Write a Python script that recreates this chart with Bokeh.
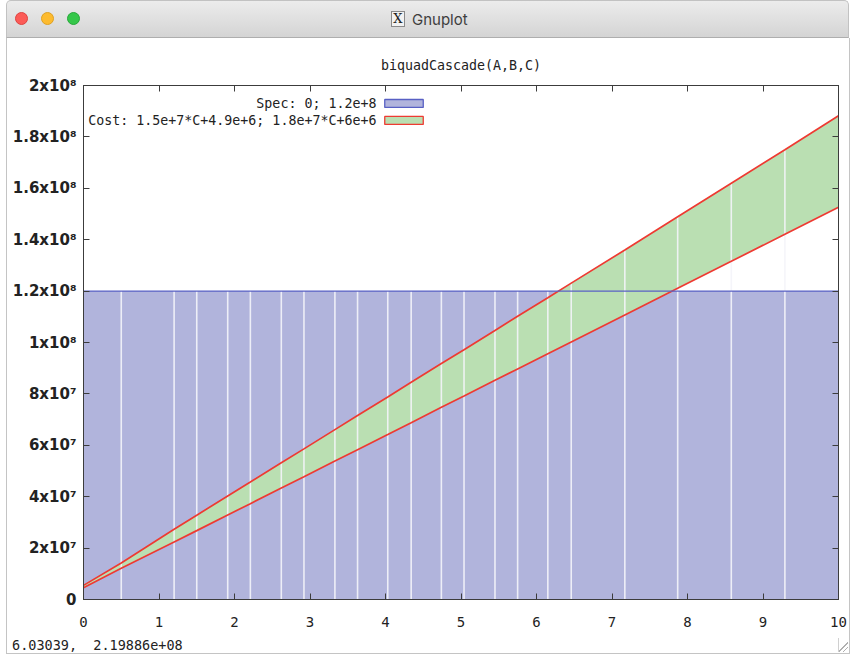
from bokeh.plotting import figure
from bokeh.models import (FixedTicker, LinearAxis, Range1d, Div, CustomJSTickFormatter)
from bokeh.layouts import column, row
from bokeh.embed import file_html
from bokeh.resources import INLINE
from bokeh.core.properties import value

# ---------------- data ----------------
window_title = "Gnuplot"
chart_title = "biquadCascade(A,B,C)"
status_text = "6.03039,  2.19886e+08"

# sample points of C (where gnuplot's filled segments meet)
C = [0.0, 0.5, 1.2, 1.5, 1.91, 2.21, 2.62, 2.92, 3.33, 3.63, 4.03, 4.34,
     4.74, 5.04, 5.45, 5.75, 6.15, 6.46, 7.17, 7.87, 8.58, 9.29, 10.0]
cost_low = [4.6e6, 12.2e6, 22.4e6, 26.8e6, 32.9e6, 37.3e6, 43.4e6, 47.8e6,
            53.9e6, 58.3e6, 64.2e6, 68.8e6, 74.8e6, 79.2e6, 85.3e6, 89.7e6,
            95.6e6, 100.2e6, 110.7e6, 121.1e6, 131.6e6, 142.1e6, 152.6e6]
cost_high = [5.5e6, 14.2e6, 27.3e6, 32.8e6, 40.3e6, 45.7e6, 53.2e6, 58.6e6,
             66.1e6, 71.6e6, 78.8e6, 84.5e6, 91.8e6, 97.2e6, 104.7e6, 110.2e6,
             117.4e6, 123.1e6, 136.0e6, 148.9e6, 162.0e6, 175.0e6, 188.2e6]
spec_x = [0.0, 10.0]
spec_low = [0.0, 0.0]
spec_high = [1.2e8, 1.2e8]

x_ticks = [0, 1, 2, 3, 4, 5, 6, 7, 8, 9, 10]
y_ticks = [0, 20000000, 40000000, 60000000, 80000000, 100000000,
           120000000, 140000000, 160000000, 180000000, 200000000]
y_tick_labels = ["0", "2x10\u2077", "4x10\u2077", "6x10\u2077", "8x10\u2077",
                 "1x10\u2078", "1.2x10\u2078", "1.4x10\u2078", "1.6x10\u2078",
                 "1.8x10\u2078", "2x10\u2078"]
legend_labels = ["Spec: 0; 1.2e+8", "Cost: 1.5e+7*C+4.9e+6; 1.8e+7*C+6e+6"]

# ---------------- style ----------------
BLUE_FILL = "#b1b4dc"
BLUE_LINE = "#5860c4"
GREEN_FILL = "#badfb2"
RED = "#ee3a32"
FRAME = "#3c3c3c"
MONO = "DejaVu Sans Mono"

p = figure(width=840, height=594, x_range=Range1d(0, 10), y_range=Range1d(0, 2e8),
           output_backend="svg", toolbar_location=None,
           min_border_left=76, min_border_right=9, min_border_top=47,
           min_border_bottom=33, title=chart_title)
p.background_fill_color = "white"
p.border_fill_color = "white"
p.outline_line_color = FRAME
p.outline_line_width = 1
p.grid.visible = False

p.title.align = "center"
p.title.text_font = MONO
p.title.text_font_size = "13.3px"
p.title.text_font_style = "normal"
p.title.text_color = "#222222"
p.title.standoff = 26

# spec band
p.varea(x=spec_x, y1=spec_low, y2=spec_high, fill_color=BLUE_FILL)
# cost band
p.varea(x=C, y1=cost_low, y2=cost_high, fill_color=GREEN_FILL)
# white seams of the filled segments
spec_level = spec_high[0]
inner = C[1:-1]
tops = [max(spec_level, h) for h in cost_high[1:-1]]
p.segment(x0=inner, y0=[0.0] * len(inner), x1=inner, y1=tops,
          line_color="#f4f4fa", line_width=1.6, line_alpha=0.9)
# borders
p.line(C, cost_low, line_color=RED, line_width=1.7)
p.line(C, cost_high, line_color=RED, line_width=1.7)
p.line(spec_x, spec_high, line_color=BLUE_LINE, line_width=1.3)

# gnuplot style key (text left, sample right)
key_text_x = 3.88
key_box_l, key_box_r = 3.99, 4.50
key_y = [1.930e8, 1.864e8]
key_half = 1.55e6
p.text(x=[key_text_x] * 2, y=key_y, text=legend_labels, text_align="right",
       text_baseline="middle", text_font=value(MONO), text_font_size="13.3px",
       text_color="#222222")
p.quad(left=[key_box_l], right=[key_box_r], bottom=[key_y[0] - key_half],
       top=[key_y[0] + key_half], fill_color=BLUE_FILL, line_color=BLUE_LINE,
       line_width=1.3)
p.quad(left=[key_box_l], right=[key_box_r], bottom=[key_y[1] - key_half],
       top=[key_y[1] + key_half], fill_color=GREEN_FILL, line_color=RED,
       line_width=1.3)

# axes
def style_axis(ax):
    ax.major_tick_in = 6
    ax.major_tick_out = 0
    ax.minor_tick_line_color = None
    ax.axis_line_color = FRAME
    ax.major_tick_line_color = FRAME

xa = p.xaxis[0]
xa.ticker = FixedTicker(ticks=x_ticks)
style_axis(xa)
xa.major_label_text_font = MONO
xa.major_label_text_font_size = "14px"
xa.major_label_text_color = "#222222"
xa.major_label_standoff = 17

ya = p.yaxis[0]
ya.ticker = FixedTicker(ticks=y_ticks)
ya.major_label_overrides = {t: lab for t, lab in zip(y_ticks, y_tick_labels)}
style_axis(ya)
ya.major_label_text_font = "DejaVu Sans"
ya.major_label_text_font_style = "bold"
ya.major_label_text_font_size = "15px"
ya.major_label_text_color = "#222222"
ya.major_label_standoff = 7

blank = CustomJSTickFormatter(code="return ''")
top_ax = LinearAxis(ticker=FixedTicker(ticks=x_ticks), formatter=blank,
                    major_label_standoff=0)
style_axis(top_ax)
p.add_layout(top_ax, "above")
right_ax = LinearAxis(ticker=FixedTicker(ticks=y_ticks), formatter=blank,
                      major_label_standoff=0)
style_axis(right_ax)
p.add_layout(right_ax, "right")

# ---------------- window chrome ----------------
header_html = f"""
<div style="position:relative;width:854px;height:38px;overflow:hidden;">
 <div style="position:absolute;left:6px;top:0;width:843px;height:38px;box-sizing:border-box;
   background:linear-gradient(#ececec,#d4d4d4);border:1px solid #c2c2c2;border-bottom:1px solid #aeaeae;
   border-radius:5px 5px 0 0;"></div>
 <div style="position:absolute;left:15px;top:12px;width:13px;height:13px;border-radius:50%;background:#fc5b57;border:0.5px solid #de4340;"></div>
 <div style="position:absolute;left:41px;top:12px;width:13px;height:13px;border-radius:50%;background:#fdbb2f;border:0.5px solid #dea123;"></div>
 <div style="position:absolute;left:67px;top:12px;width:13px;height:13px;border-radius:50%;background:#35c74a;border:0.5px solid #27a83a;"></div>
 <div style="position:absolute;left:391px;top:11px;width:14px;height:16px;box-sizing:border-box;border:1px solid #8a8a8a;
   background:#f2f2f2;font-family:'DejaVu Serif';font-size:13px;line-height:14px;text-align:center;color:#222;">X</div>
 <div style="position:absolute;left:412px;top:9px;font-family:'Inter';font-size:15px;color:#3e3e3e;">{window_title}</div>
</div>
"""
header = Div(text=header_html, width=854, height=38, margin=0)

side_l = Div(text="", width=7, height=594, margin=0,
             styles={"background": "linear-gradient(to right, #ffffff 6px, #c4c4c4 6px)"})
side_r = Div(text="", width=7, height=594, margin=0,
             styles={"background": "linear-gradient(to right, #ffffff 2px, #c4c4c4 2px, #c4c4c4 3px, #ffffff 3px)"})

status_html = f"""
<div style="position:relative;width:854px;height:22px;overflow:hidden;">
 <div style="position:absolute;left:6px;top:0;width:844px;height:22px;box-sizing:border-box;
   border-left:1px solid #c4c4c4;border-right:1px solid #c4c4c4;border-bottom:1px solid #c4c4c4;background:#ffffff;"></div>
 <div style="position:absolute;left:12px;top:4px;font-family:'{MONO}';font-size:13.5px;color:#222;white-space:pre;">{status_text}</div>
 <div style="position:absolute;left:838px;top:6px;width:10px;height:14px;box-sizing:border-box;border-left:1px solid #d0d0d0;
   background:linear-gradient(135deg, transparent 55%, #b0b0b0 55%, #b0b0b0 62%, transparent 62%, transparent 75%, #b0b0b0 75%, #b0b0b0 82%, transparent 82%);"></div>
</div>
"""
status = Div(text=status_html, width=854, height=22, margin=0)

layout = column(header, row(side_l, p, side_r, spacing=0), status, spacing=0)

open("out.html", "w").write(file_html(layout, INLINE))
